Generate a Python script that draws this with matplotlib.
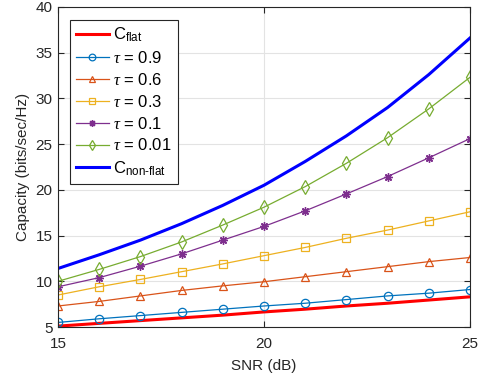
import numpy as np
import matplotlib.pyplot as plt

plt.rcParams['font.family'] = ['Liberation Sans', 'DejaVu Sans']
plt.rcParams['mathtext.fontset'] = 'custom'
plt.rcParams['mathtext.rm'] = 'Liberation Sans'
plt.rcParams['mathtext.it'] = 'Liberation Serif:italic'

snr = [15, 16, 17, 18, 19, 20, 21, 22, 23, 24, 25]

c_flat = [5.1, 5.4, 5.7, 6.0, 6.3, 6.65, 6.95, 7.3, 7.6, 7.95, 8.3]
tau_09 = [5.5, 5.9, 6.25, 6.6, 6.95, 7.3, 7.6, 8.0, 8.4, 8.7, 9.1]
tau_06 = [7.3, 7.8, 8.4, 9.0, 9.5, 9.95, 10.5, 11.05, 11.6, 12.15, 12.6]
tau_03 = [8.5, 9.4, 10.2, 11.05, 11.9, 12.8, 13.7, 14.7, 15.6, 16.6, 17.6]
tau_01 = [9.4, 10.4, 11.65, 13.0, 14.5, 16.0, 17.7, 19.55, 21.45, 23.5, 25.6]
tau_001 = [10.0, 11.3, 12.7, 14.3, 16.15, 18.1, 20.35, 22.9, 25.7, 28.85, 32.3]
c_nonflat = [11.4, 12.9, 14.5, 16.3, 18.3, 20.5, 23.1, 25.9, 29.0, 32.6, 36.6]

fig = plt.figure(figsize=(4.81, 3.85), dpi=100)
ax = fig.add_axes([0.1206, 0.1506, 0.8564, 0.8314])

ax.plot(snr, c_flat, color='r', lw=2.2, label=r'C$_{\rm flat}$')
ax.plot(snr, tau_09, '-o', color='#0072BD', lw=0.9, ms=6, mfc='none', mew=0.9, label=r'$\tau$ = 0.9')
ax.plot(snr, tau_06, '-^', color='#D95319', lw=0.9, ms=6, mfc='none', mew=0.9, label=r'$\tau$ = 0.6')
ax.plot(snr, tau_03, '-s', color='#EDB120', lw=0.9, ms=6, mfc='none', mew=0.9, label=r'$\tau$ = 0.3')
ax.plot(snr, tau_01, '-', marker=(8, 2, 0), color='#7E2F8E', lw=0.9, ms=6, mew=1.0, label=r'$\tau$ = 0.1')
ax.plot(snr, tau_001, '-d', color='#77AC30', lw=0.9, ms=7, mfc='none', mew=0.9, label=r'$\tau$ = 0.01')
ax.plot(snr, c_nonflat, color='b', lw=2.2, label=r'C$_{\rm non\text{-}flat}$')

ax.set_xlim(15, 25)
ax.set_ylim(5, 40)
ax.set_xticks([15, 20, 25])
ax.set_yticks(range(5, 41, 5))
ax.grid(True, color='#e3e3e3', lw=0.8)
ax.set_axisbelow(True)
ax.tick_params(direction='in', top=True, right=True, labelsize=11, colors='#262626', length=4)
ax.tick_params(axis='x', pad=7)
ax.tick_params(axis='y', pad=4)
for s in ax.spines.values():
    s.set_color('#262626')
    s.set_linewidth(0.8)

ax.set_xlabel('SNR (dB)', fontsize=11, color='#262626', labelpad=6)
ax.set_ylabel('Capacity (bits/sec/Hz)', fontsize=11, color='#262626')

leg = ax.legend(loc='upper left', bbox_to_anchor=(0.029, 0.959), borderaxespad=0,
                fontsize=12, handlelength=2.0, handletextpad=0.25, labelspacing=0.35,
                markerscale=0.8, fancybox=False, edgecolor='#262626', framealpha=1,
                borderpad=0.35)
leg.get_frame().set_linewidth(0.8)

fig.savefig('out.png', dpi=100)
